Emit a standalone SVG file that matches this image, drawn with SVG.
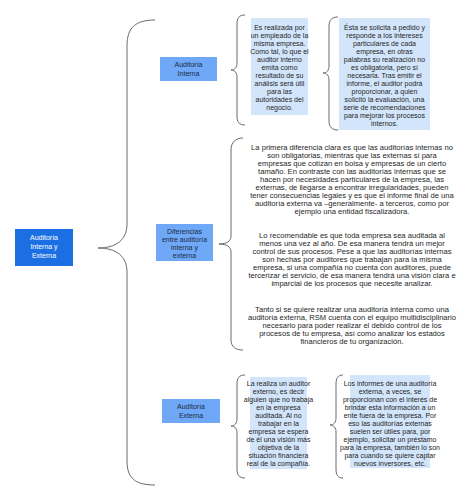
<svg xmlns="http://www.w3.org/2000/svg" width="474" height="492" viewBox="0 0 474 492">
<style>
  text { font-family: "Liberation Sans", Arial, sans-serif; text-anchor: middle; }
  .root { fill: #1c6fe3; }
  .mid { fill: #6fa8f6; }
  .note { fill: #d3e5fb; }
  .brace { fill: none; stroke: #6a6a6a; stroke-width: 1; }
  .tw { fill: #ffffff; font-size: 7px; }
  .tm { fill: #1c2b45; font-size: 7px; }
  .tn { fill: #1e1e1e; font-size: 7px; }
  .tp { fill: #1e1e1e; font-size: 7.6px; }
</style>
<rect width="474" height="492" fill="#ffffff"/>
<g id="connectors">
  <path class="brace" d="M155,20 C135,20 127,28 127,46 L127,224 C127,240 116,248 98,248 C116,248 127,256 127,272 L127,461 C127,478 135,485 155,485"/>
  <path class="brace" d="M245,15 C239,15 237,18 237,24 L237,63 C237,67 235,70 231,70 C235,70 237,73 237,77 L237,116 C237,122 239,125 245,125"/>
  <path class="brace" d="M338,17 C332,17 329,20 329,26 L329,66 C329,70 327,73 323,73 C327,73 329,76 329,80 L329,121 C329,127 332,130 338,130"/>
  <path class="brace" d="M243,138 C236,138 231,142 231,150 L231,236 C231,241 227,244 219,244 C227,244 231,247 231,252 L231,340 C231,347 236,350 243,350"/>
  <path class="brace" d="M245,375 C239,375 237,378 237,384 L237,419 C237,423 235,426 231,426 C235,426 237,429 237,433 L237,469 C237,475 239,478 245,478"/>
  <path class="brace" d="M343,375 C338,375 336,378 336,384 L336,418 C336,422 334,425 330,425 C334,425 336,428 336,432 L336,469 C336,475 338,478 343,478"/>
</g>
<g id="root">
  <rect class="root" x="15" y="229" width="58" height="37"/>
  <text class="tw" x="44" y="239.5">Auditoría</text>
  <text class="tw" x="44" y="248.5">Interna y</text>
  <text class="tw" x="44" y="257.5">Externa</text>
</g>
<g id="interna">
  <rect class="mid" x="160" y="57" width="57" height="24"/>
  <text class="tm" x="188.5" y="67">Auditoría</text>
  <text class="tm" x="188.5" y="75.5">Interna</text>
</g>
<g id="interna-def">
  <rect class="note" x="251" y="18" width="57" height="97"/>
  <text class="tn" x="279.5" y="30">Es realizada por</text>
  <text class="tn" x="279.5" y="38">un empleado de la</text>
  <text class="tn" x="279.5" y="46">misma empresa.</text>
  <text class="tn" x="279.5" y="54">Como tal, lo que el</text>
  <text class="tn" x="279.5" y="62">auditor interno</text>
  <text class="tn" x="279.5" y="70">emita como</text>
  <text class="tn" x="279.5" y="78">resultado de su</text>
  <text class="tn" x="279.5" y="86">análisis será útil</text>
  <text class="tn" x="279.5" y="94">para las</text>
  <text class="tn" x="279.5" y="102">autoridades del</text>
  <text class="tn" x="279.5" y="110">negocio.</text>
</g>
<g id="interna-detalle">
  <rect class="note" x="339" y="18" width="91" height="112"/>
  <text class="tn" x="384.5" y="30">Ésta se solicita a pedido y</text>
  <text class="tn" x="384.5" y="38">responde a los intereses</text>
  <text class="tn" x="384.5" y="46">particulares de cada</text>
  <text class="tn" x="384.5" y="54">empresa, en otras</text>
  <text class="tn" x="384.5" y="62">palabras su realización no</text>
  <text class="tn" x="384.5" y="70">es obligatoria, pero sí</text>
  <text class="tn" x="384.5" y="78">necesaria. Tras emitir el</text>
  <text class="tn" x="384.5" y="86">informe, el auditor podrá</text>
  <text class="tn" x="384.5" y="94">proporcionar, a quien</text>
  <text class="tn" x="384.5" y="102">solicitó la evaluación, una</text>
  <text class="tn" x="384.5" y="110">serie de recomendaciones</text>
  <text class="tn" x="384.5" y="118">para mejorar los procesos</text>
  <text class="tn" x="384.5" y="126">internos.</text>
</g>
<g id="diferencias">
  <rect class="mid" x="156" y="224" width="57" height="37"/>
  <text class="tm" x="184.5" y="234">Diferencias</text>
  <text class="tm" x="184.5" y="242">entre auditoría</text>
  <text class="tm" x="184.5" y="250">interna y</text>
  <text class="tm" x="184.5" y="258">externa</text>
</g>
<g id="diferencias-texto">
  <text class="tp" x="352" y="150">La primera diferencia clara es que las auditorías internas no</text>
  <text class="tp" x="352" y="158">son obligatorias, mientras que las externas sí para</text>
  <text class="tp" x="352" y="166">empresas que cotizan en bolsa y empresas de un cierto</text>
  <text class="tp" x="352" y="174">tamaño. En contraste con las auditorías internas que se</text>
  <text class="tp" x="352" y="182">hacen por necesidades particulares de la empresa, las</text>
  <text class="tp" x="352" y="190">externas, de llegarse a encontrar irregularidades, pueden</text>
  <text class="tp" x="352" y="198">tener consecuencias legales y es que el informe final de una</text>
  <text class="tp" x="352" y="206">auditoría externa va –generalmente- a terceros, como por</text>
  <text class="tp" x="352" y="214">ejemplo una entidad fiscalizadora.</text>
  <text class="tp" x="352" y="238">Lo recomendable es que toda empresa sea auditada al</text>
  <text class="tp" x="352" y="246">menos una vez al año. De esa manera tendrá un mejor</text>
  <text class="tp" x="352" y="254">control de sus procesos. Pese a que las auditorías internas</text>
  <text class="tp" x="352" y="262">son hechas por auditores que trabajan para la misma</text>
  <text class="tp" x="352" y="270">empresa, si una compañía no cuenta con auditores, puede</text>
  <text class="tp" x="352" y="278">tercerizar el servicio, de esa manera tendrá una visión clara e</text>
  <text class="tp" x="352" y="286">imparcial de los procesos que necesite analizar.</text>
  <text class="tp" x="352" y="312">Tanto si se quiere realizar una auditoría interna como una</text>
  <text class="tp" x="352" y="320">auditoría externa, RSM cuenta con el equipo multidisciplinario</text>
  <text class="tp" x="352" y="328">necesario para poder realizar el debido control de los</text>
  <text class="tp" x="352" y="336">procesos de tu empresa, así como analizar los estados</text>
  <text class="tp" x="352" y="344">financieros de tu organización.</text>
</g>
<g id="externa">
  <rect class="mid" x="162" y="399" width="58" height="24"/>
  <text class="tm" x="191" y="409">Auditoría</text>
  <text class="tm" x="191" y="417.5">Externa</text>
</g>
<g id="externa-def">
  <rect class="note" x="250" y="377" width="57" height="92"/>
  <text class="tn" x="278.5" y="386">La realiza un auditor</text>
  <text class="tn" x="278.5" y="394">externo, es decir</text>
  <text class="tn" x="278.5" y="402">alguien que no trabaja</text>
  <text class="tn" x="278.5" y="410">en la empresa</text>
  <text class="tn" x="278.5" y="418">auditada. Al no</text>
  <text class="tn" x="278.5" y="426">trabajar en la</text>
  <text class="tn" x="278.5" y="434">empresa se espera</text>
  <text class="tn" x="278.5" y="442">de él una visión más</text>
  <text class="tn" x="278.5" y="450">objetiva de la</text>
  <text class="tn" x="278.5" y="458">situación financiera</text>
  <text class="tn" x="278.5" y="466">real de la compañía.</text>
</g>
<g id="externa-detalle">
  <rect class="note" x="350" y="375" width="80" height="93"/>
  <text class="tn" x="390" y="386">Los informes de una auditoría</text>
  <text class="tn" x="390" y="394">externa, a veces, se</text>
  <text class="tn" x="390" y="402">proporcionan con el interés de</text>
  <text class="tn" x="390" y="410">brindar esta información a un</text>
  <text class="tn" x="390" y="418">ente fuera de la empresa. Por</text>
  <text class="tn" x="390" y="426">eso las auditorías externas</text>
  <text class="tn" x="390" y="434">suelen ser útiles para, por</text>
  <text class="tn" x="390" y="442">ejemplo, solicitar un préstamo</text>
  <text class="tn" x="390" y="450">para la empresa, también lo son</text>
  <text class="tn" x="390" y="458">para cuando se quiere captar</text>
  <text class="tn" x="390" y="466">nuevos inversores, etc.</text>
</g>
</svg>
